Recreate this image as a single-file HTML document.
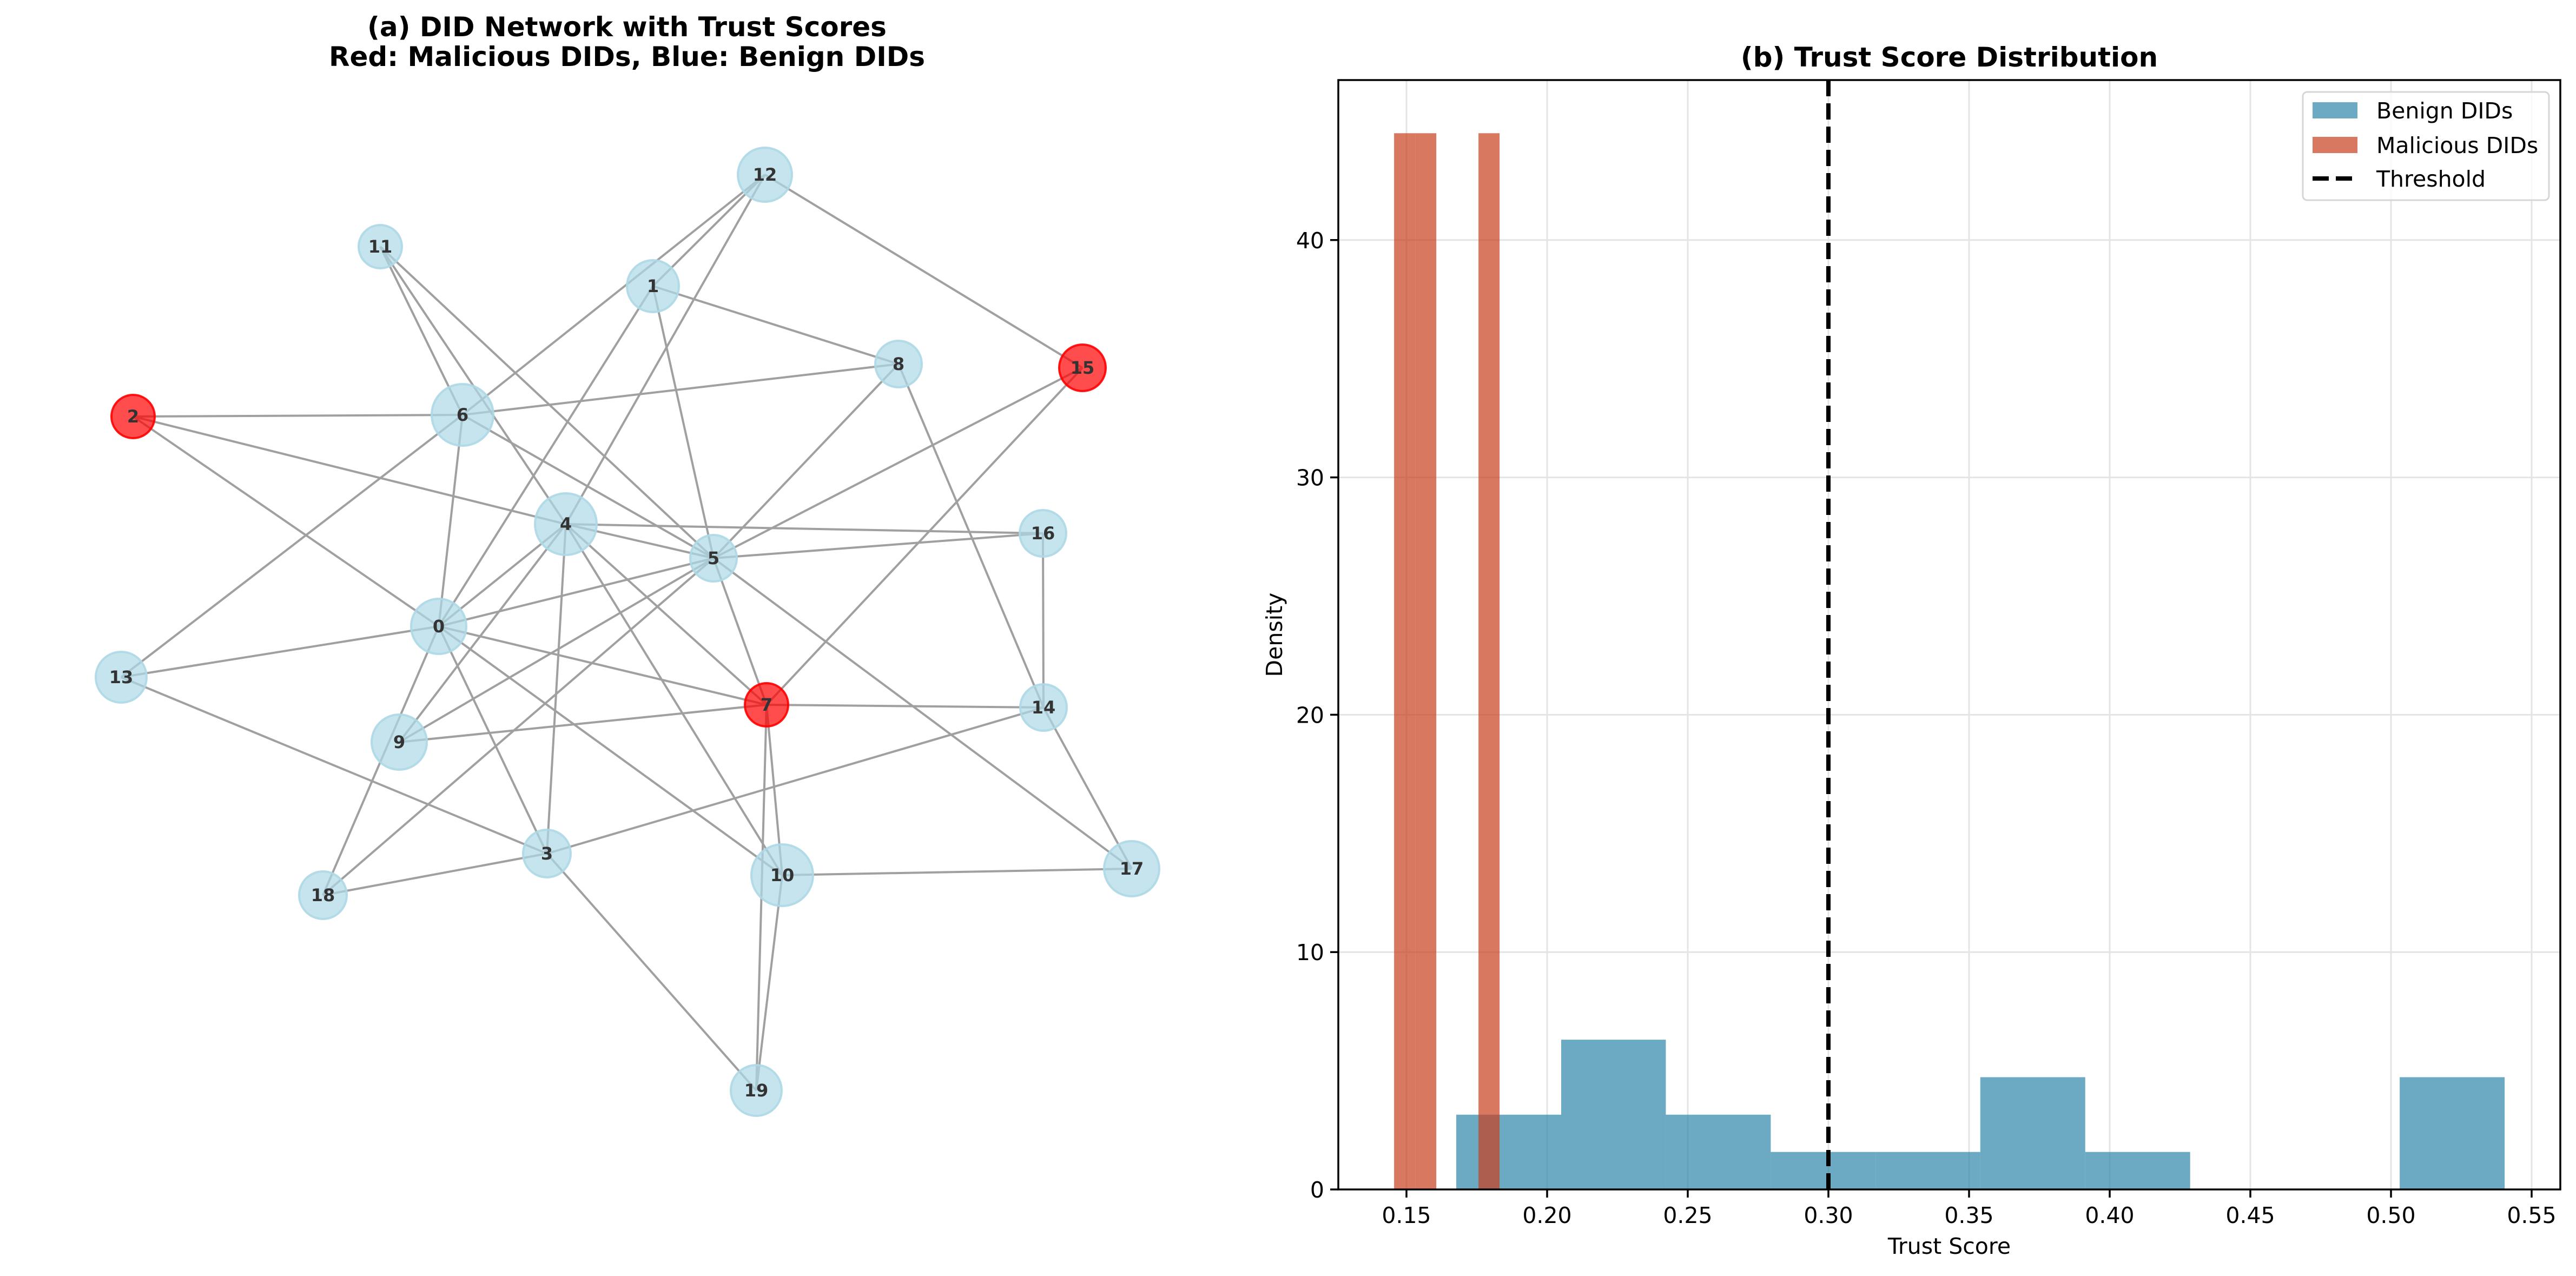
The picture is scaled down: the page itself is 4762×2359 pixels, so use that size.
<!DOCTYPE html>
<html><head><meta charset="utf-8"><style>
html,body{margin:0;padding:0;background:#fff;}
svg{display:block;font-family:"DejaVu Sans","Liberation Sans",sans-serif;}
</style></head><body>
<svg id="fig" width="4762" height="2359" viewBox="0 0 4762 2359" xmlns="http://www.w3.org/2000/svg">
<g id="net">
<text x="1159" y="67" text-anchor="middle" font-size="50" font-weight="bold">(a) DID Network with Trust Scores</text>
<text x="1159" y="122" text-anchor="middle" font-size="50" font-weight="bold">Red: Malicious DIDs, Blue: Benign DIDs</text>
<g id="edges"></g>
<g id="nodes"></g>
</g>
<g id="hist"></g>
</svg>
<script>
// ---------- Network data ----------
const nodeIds = [0,1,2,3,4,5,6,7,8,9,10,11,12,13,14,15,16,17,18,19];
const nodeX = [811,1207,246,1011,1046,1319,855,1417,1661,738,1446,703,1414,224,1929,2001,1928,2092,597,1398];
const nodeY = [1158,529,770,1578,969,1032,767,1303,673,1372,1618,456,323,1252,1308,680,986,1606,1655,2016];
const nodeR = [51,48,40,44,57,43,57,40,43,51,57,40,50,47,43,43,43,51,44,47];
const maliciousNodes = [2,7,15];
const edgeList = [[12,6],[12,1],[12,4],[12,15],[1,8],[1,5],[1,0],[11,6],[11,4],[11,5],[8,6],[8,5],[8,14],[15,5],[15,7],[2,6],[2,4],[2,0],[6,5],[6,0],[6,13],[4,16],[4,5],[4,0],[4,9],[4,3],[4,10],[4,7],[5,16],[5,0],[5,9],[5,18],[5,7],[5,17],[0,13],[0,7],[0,3],[0,10],[0,18],[7,9],[7,14],[7,10],[7,19],[16,14],[14,3],[14,17],[13,3],[3,18],[3,19],[10,17],[10,19]];

// ---------- Histogram data ----------
const benignEdges = [0.1677,0.2050,0.2422,0.2795,0.3168,0.3540,0.3913,0.4286,0.4659,0.5031,0.5404];
const benignDensity = [3.15,6.31,3.15,1.58,1.58,4.73,1.58,0,0,4.73];
const malEdges = [0.1456,0.1531,0.1606,0.1681,0.1756,0.1831];
const malDensity = [44.5,44.5,0,0,44.5];
const threshold = 0.30;
const xTicks = [0.15,0.20,0.25,0.30,0.35,0.40,0.45,0.50,0.55];
const xTickLabels = ["0.15","0.20","0.25","0.30","0.35","0.40","0.45","0.50","0.55"];
const yTicks = [0,10,20,30,40];
const yTickLabels = ["0","10","20","30","40"];

const NS = "http://www.w3.org/2000/svg";
function mk(tag, attrs, parent){const e=document.createElementNS(NS,tag);for(const k in attrs)e.setAttribute(k,attrs[k]);parent.appendChild(e);return e;}

// draw network
const eg=document.getElementById('edges'), ng=document.getElementById('nodes');
edgeList.forEach(([a,b])=>{
  const ia=nodeIds.indexOf(a), ib=nodeIds.indexOf(b);
  const l=mk('line',{x1:nodeX[ia],y1:nodeY[ia],x2:nodeX[ib],y2:nodeY[ib],stroke:'#a0a0a0','stroke-width':4},eg);
  
  
});
nodeIds.forEach((id,i)=>{
  const mal=maliciousNodes.includes(id);
  const c=mk('circle',{cx:nodeX[i],cy:nodeY[i],r:nodeR[i],fill:mal?'#ff0000':'#add8e6','fill-opacity':0.7,stroke:mal?'#ff0000':'#add8e6','stroke-opacity':0.9,'stroke-width':4},ng);
  
  
  const t=mk('text',{x:nodeX[i],y:nodeY[i]+11,'text-anchor':'middle','font-size':32,'font-weight':'bold',fill:'#333'},ng);
  t.textContent=String(id);
  
  
});

// histogram axes
const L=2474,R=4733,T=148,B=2199;
const ymax=46.74;
const sx=v=>2600+(v-0.15)*5200;
const sy=v=>B-(v/ymax)*(B-T);
const hg=document.getElementById('hist');
// grid
xTicks.forEach((v,i)=>{const g=mk('line',{x1:sx(v),x2:sx(v),y1:T,y2:B,stroke:'#e4e4e4','stroke-width':3},hg);
 
 });
yTicks.forEach((v,i)=>{const g=mk('line',{x1:L,x2:R,y1:sy(v),y2:sy(v),stroke:'#e4e4e4','stroke-width':3},hg);
 
 });
// benign bars
benignDensity.forEach((d,i)=>{if(d<=0)return;
 const r=mk('rect',{x:sx(benignEdges[i]),y:sy(d),width:sx(benignEdges[i+1])-sx(benignEdges[i]),height:B-sy(d),fill:'#2E86AB','fill-opacity':0.7},hg);
 
 });
// malicious bars
malDensity.forEach((d,i)=>{if(d<=0)return;
 const r=mk('rect',{x:sx(malEdges[i]),y:sy(d),width:sx(malEdges[i+1])-sx(malEdges[i]),height:B-sy(d),fill:'#C73E1D','fill-opacity':0.7},hg);
 
 });
// threshold
const th=mk('line',{x1:sx(threshold),x2:sx(threshold),y1:T,y2:B,stroke:'#000','stroke-width':8,'stroke-dasharray':'30 13'},hg);


// spines
const fr=mk('rect',{x:L,y:T,width:R-L,height:B-T,fill:'none',stroke:'#000','stroke-width':3.5},hg);


// ticks
xTicks.forEach((v,i)=>{
 const tk=mk('line',{x1:sx(v),x2:sx(v),y1:B,y2:B+15,stroke:'#000','stroke-width':3.5},hg);
 
 
 const t=mk('text',{x:sx(v),y:B+62,'text-anchor':'middle','font-size':41},hg);
 t.textContent=xTickLabels[i];
 
 
});
yTicks.forEach((v,i)=>{
 const tk=mk('line',{x1:L-15,x2:L,y1:sy(v),y2:sy(v),stroke:'#000','stroke-width':3.5},hg);
 
 
 const t=mk('text',{x:L-26,y:sy(v)+15,'text-anchor':'end','font-size':41},hg);
 t.textContent=yTickLabels[i];
 
 
});
// labels
let t=mk('text',{x:(L+R)/2,y:2318,'text-anchor':'middle','font-size':41},hg);t.textContent='Trust Score';


t=mk('text',{x:2370,y:(T+B)/2,'text-anchor':'middle','font-size':41,transform:'rotate(-90 2370 '+((T+B)/2)+')'},hg);t.textContent='Density';


t=mk('text',{x:(L+R)/2,y:123,'text-anchor':'middle','font-size':50,'font-weight':'bold'},hg);t.textContent='(b) Trust Score Distribution';


// legend
const lg=mk('g',{},hg);


mk('rect',{x:4257,y:170,width:455,height:200,rx:8,fill:'#fff','fill-opacity':0.8,stroke:'#d6d6d6','stroke-width':3},lg);
const entries=[['Benign DIDs','benign'],['Malicious DIDs','malicious'],['Threshold','threshold']];
const rowsY=[204,268,330];
entries.forEach((e,i)=>{
 const y=rowsY[i];
 let m;
 if(e[1]==='benign') m=mk('rect',{x:4275,y:y-15,width:83,height:30,fill:'#2E86AB','fill-opacity':0.7},lg);
 else if(e[1]==='malicious') m=mk('rect',{x:4275,y:y-15,width:83,height:30,fill:'#C73E1D','fill-opacity':0.7},lg);
 else m=mk('line',{x1:4275,x2:4358,y1:y,y2:y,stroke:'#000','stroke-width':8,'stroke-dasharray':'30 13'},lg);
 
 
 const tx=mk('text',{x:4393,y:y+15,'font-size':41},lg);
 tx.textContent=e[0];
 
 
});
</script>
</body></html>
